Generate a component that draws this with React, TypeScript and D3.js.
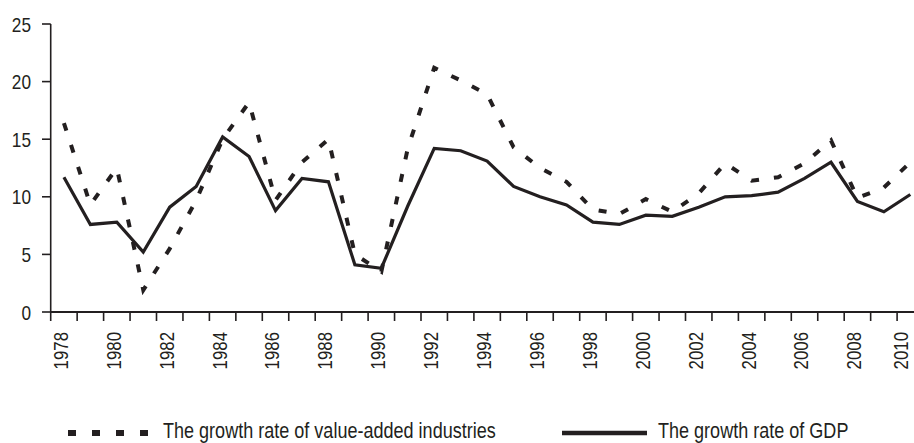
import React, { useRef, useEffect } from "react";
import * as d3 from "d3";

const years = d3.range(1978, 2011);

// growth rate of value-added industries (%)
const industry = [
  16.4, 9.3, 12.5, 1.9, 5.5, 9.7, 15.0, 18.2, 9.7, 13.0, 15.0,
  5.0, 3.5, 14.2, 21.2, 20.1, 18.9, 14.3, 12.5, 11.3, 8.9, 8.5,
  9.8, 8.7, 10.3, 12.9, 11.4, 11.7, 12.9, 14.9, 9.9, 10.8, 13.0,
];

// growth rate of GDP (%)
const gdp = [
  11.7, 7.6, 7.8, 5.2, 9.1, 10.9, 15.2, 13.5, 8.8, 11.6, 11.3,
  4.1, 3.8, 9.2, 14.2, 14.0, 13.1, 10.9, 10.0, 9.3, 7.8, 7.6,
  8.4, 8.3, 9.1, 10.0, 10.1, 10.4, 11.6, 13.0, 9.6, 8.7, 10.2,
];

const yTicks = [0, 5, 10, 15, 20, 25];
const legendLabels = ["The growth rate of value-added industries", "The growth rate of GDP"];

export default function App() {
  const svgRef = useRef<SVGSVGElement>(null);

  useEffect(() => {
    const width = 914;
    const height = 443;
    const ink = "#231f20";
    const font = "'Liberation Sans', Arial, sans-serif";
    const narrow = 0.82; // reference uses a condensed face

    const svg = d3.select(svgRef.current)
      .attr("width", width)
      .attr("height", height)
      .attr("viewBox", [0, 0, width, height].join(" "));

    svg.selectAll("*").remove();

    const x = d3.scaleBand<number>()
      .domain(years)
      .range([50.7, 50.7 + years.length * 26.45])
      .padding(0);

    const y = d3.scaleLinear().domain([0, 25]).range([312, 24]);
    const cx = (yr: number) => (x(yr) as number) + x.bandwidth() / 2;

    // Y axis
    const yAxis = svg.append("g");
    yAxis.append("line")
      .attr("x1", x.range()[0]).attr("x2", x.range()[0])
      .attr("y1", y(25)).attr("y2", y(0))
      .attr("stroke", ink).attr("stroke-width", 1.6);
    yAxis.selectAll("line.tick")
      .data(yTicks)
      .join("line")
        .attr("class", "tick")
        .attr("x1", 42).attr("x2", x.range()[0])
        .attr("y1", d => y(d)).attr("y2", d => y(d))
        .attr("stroke", ink).attr("stroke-width", 1.6);
    yAxis.selectAll("text")
      .data(yTicks)
      .join("text")
        .attr("transform", d => `translate(31,${y(d)}) scale(${narrow},1)`)
        .attr("dy", "0.36em")
        .attr("text-anchor", "end")
        .attr("font-family", font)
        .attr("font-size", 21)
        .attr("fill", ink)
        .text(d => d);

    // X axis
    const xAxis = svg.append("g");
    xAxis.append("line")
      .attr("x1", x.range()[0]).attr("x2", width)
      .attr("y1", y(0)).attr("y2", y(0))
      .attr("stroke", ink).attr("stroke-width", 2);
    xAxis.selectAll("line.tick")
      .data(years)
      .join("line")
        .attr("class", "tick")
        .attr("x1", d => x(d) as number).attr("x2", d => x(d) as number)
        .attr("y1", y(0)).attr("y2", y(0) + 9)
        .attr("stroke", ink).attr("stroke-width", 1.6);
    xAxis.selectAll("text")
      .data(years.filter(d => d % 2 === 0))
      .join("text")
        .attr("transform", d => `translate(${Math.min(cx(d) - 3.5, width - 13)},332) rotate(-90) scale(${narrow},1)`)
        .attr("dy", "0.36em")
        .attr("text-anchor", "end")
        .attr("font-family", font)
        .attr("font-size", 20.5)
        .attr("fill", ink)
        .text(d => d);

    const line = d3.line<number>()
      .x((_, i) => cx(years[i]))
      .y(d => y(d));

    svg.append("path")
      .attr("d", line(industry))
      .attr("fill", "none")
      .attr("stroke", ink)
      .attr("stroke-width", 4)
      .attr("stroke-dasharray", "8,15");

    svg.append("path")
      .attr("d", line(gdp))
      .attr("fill", "none")
      .attr("stroke", ink)
      .attr("stroke-width", 3.2)
      .attr("stroke-linejoin", "miter");

    // Legend
    const legend = svg.append("g");
    legend.append("line")
      .attr("x1", 68).attr("x2", 148)
      .attr("y1", 433).attr("y2", 433)
      .attr("stroke", ink).attr("stroke-width", 6)
      .attr("stroke-dasharray", "8,16");
    legend.append("line")
      .attr("x1", 562).attr("x2", 647)
      .attr("y1", 433).attr("y2", 433)
      .attr("stroke", ink).attr("stroke-width", 4.5);
    legend.selectAll("text")
      .data(legendLabels)
      .join("text")
        .attr("transform", (_, i) => `translate(${i === 0 ? 163 : 658},438) scale(${narrow},1)`)
        .attr("font-family", font)
        .attr("font-size", 22)
        .attr("fill", ink)
        .text(d => d);
  }, []);

  return <svg ref={svgRef} style={{ position: "absolute", left: 0, top: 0 }}></svg>;
}
